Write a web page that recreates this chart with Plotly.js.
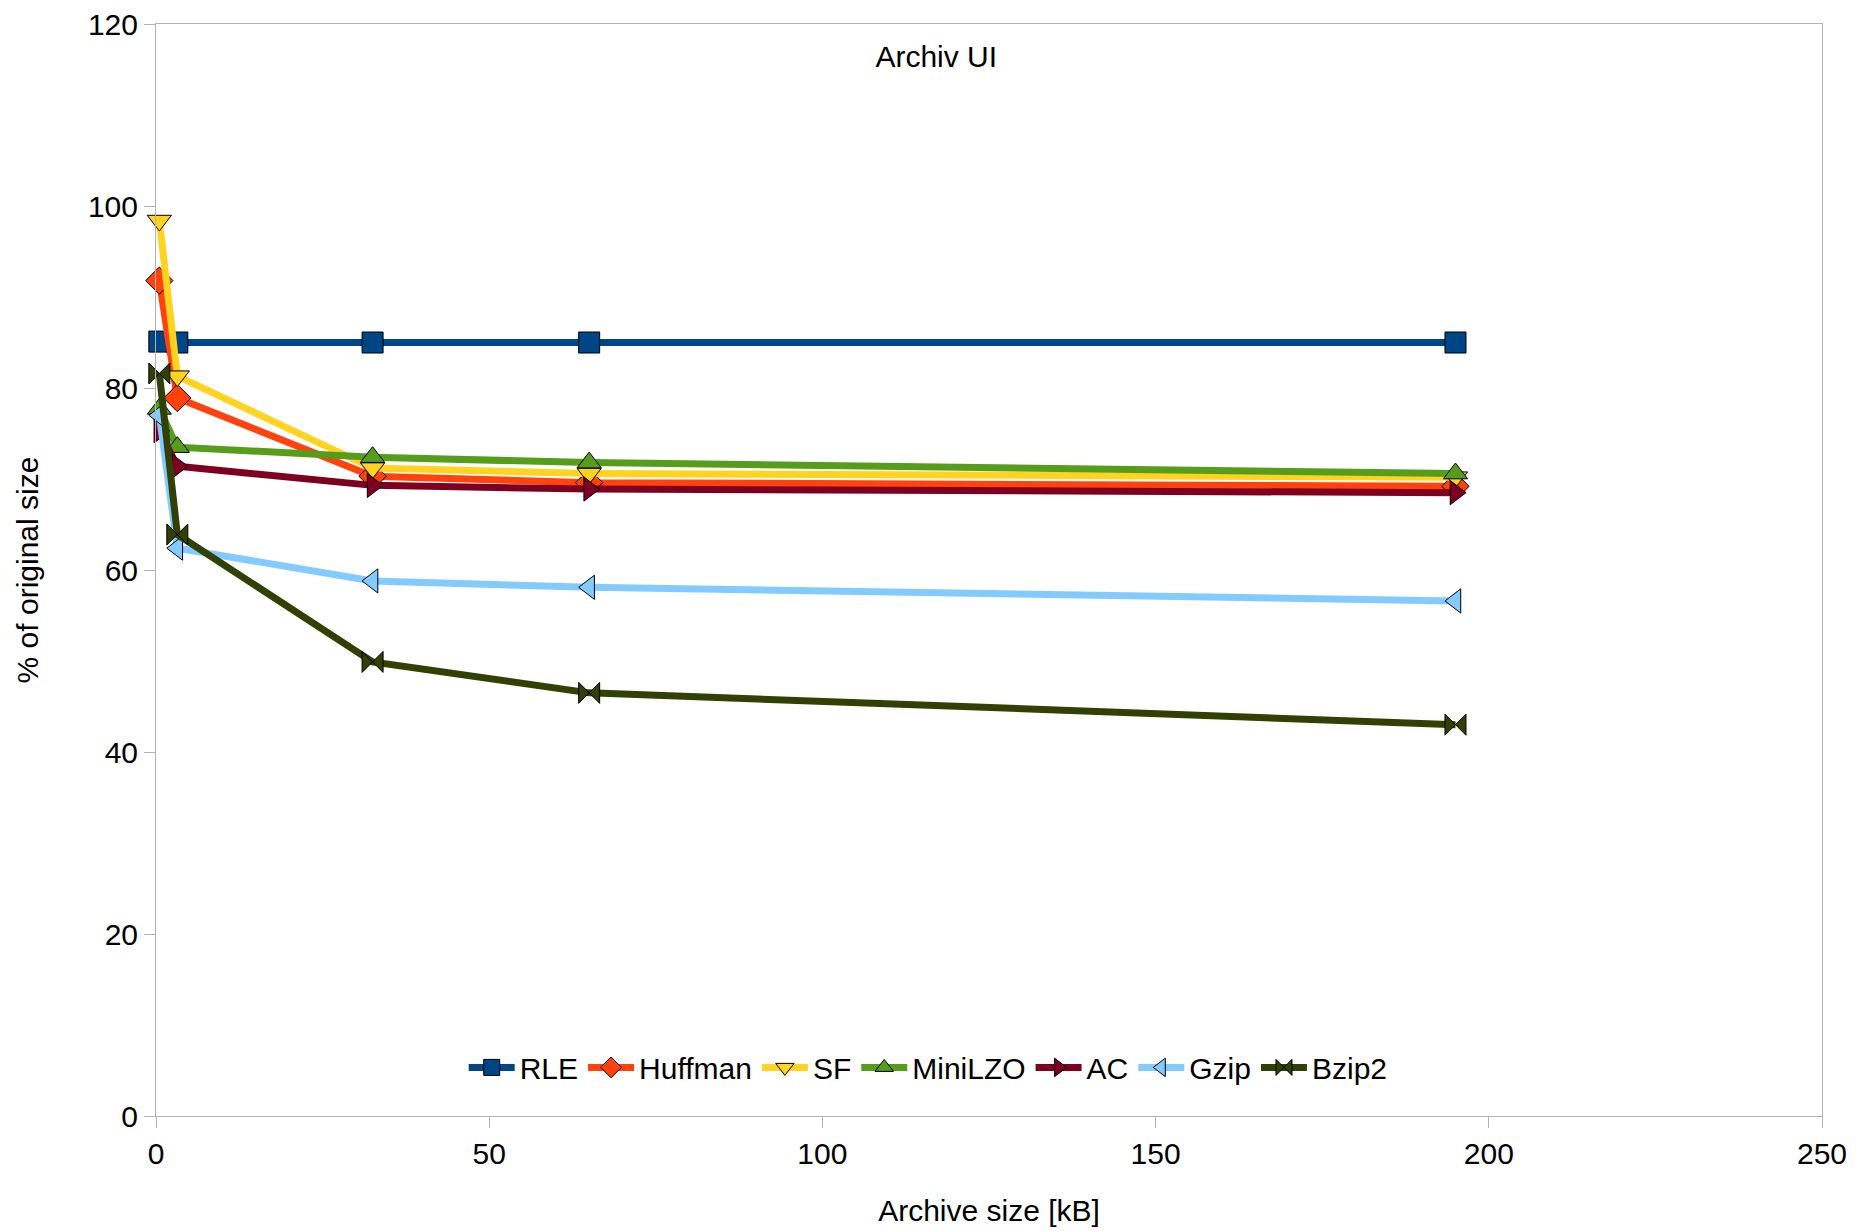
<!DOCTYPE html>
<html>
<head>
<meta charset="utf-8">
<script src="https://cdn.plot.ly/plotly-3.0.1.min.js"></script>
<style>html,body{margin:0;padding:0;background:#fff}#chart{width:1865px;height:1231px}</style>
</head>
<body>
<div id="chart"></div>
<script>
// Archive sizes [kB]
const archiveSize = [0.5, 3.2, 32.5, 65, 195];
// % of original size per algorithm
const RLE     = [85.1, 85.0, 85.0, 85.0, 85.0];
const Huffman = [91.8, 78.9, 70.3, 69.6, 69.2];
const SF      = [98.4, 81.3, 71.2, 70.6, 70.2];
const MiniLZO = [77.7, 73.5, 72.4, 71.8, 70.6];
const AC      = [75.3, 71.4, 69.3, 68.9, 68.5];
const Gzip    = [77.0, 62.4, 58.8, 58.1, 56.6];
const Bzip2   = [81.6, 63.9, 49.9, 46.5, 43.0];

const seriesNames = ["RLE", "Huffman", "SF", "MiniLZO", "AC", "Gzip", "Bzip2"];
const seriesValues = [RLE, Huffman, SF, MiniLZO, AC, Gzip, Bzip2];
const colors = ["#004586", "#ff420e", "#ffd320", "#579d1c", "#7e0021", "#83caff", "#314004"];
const symbols = ["square", "diamond", "triangle-down", "triangle-up", "triangle-right", "triangle-left", "bowtie"];

const FONT = "Liberation Sans, Arial, sans-serif";

const traces = seriesNames.map((name, i) => ({
  type: "scatter",
  mode: "lines+markers",
  name: name,
  x: archiveSize,
  y: seriesValues[i],
  cliponaxis: false,
  line: {color: colors[i], width: 7},
  marker: {symbol: symbols[i], color: colors[i], size: 21, line: {color: "#000", width: 1}}
}));

const layout = {
  width: 1865,
  height: 1231,
  paper_bgcolor: "#fff",
  plot_bgcolor: "#fff",
  margin: {l: 156, r: 43, t: 24, b: 115, autoexpand: false},
  font: {family: FONT, size: 30, color: "#000"},
  title: {text: "Archiv UI", font: {family: FONT, size: 30, color: "#000"}, x: 0.502, xanchor: "center", y: 0.9537, yanchor: "middle"},
  showlegend: true,
  legend: {
    orientation: "h",
    x: 0.4635, xanchor: "center",
    y: 0.0445, yanchor: "middle",
    itemwidth: 46,
    font: {family: FONT, size: 30, color: "#000"},
    bgcolor: "rgba(0,0,0,0)"
  },
  xaxis: {
    range: [0, 250],
    tickvals: [0, 50, 100, 150, 200, 250],
    showgrid: false,
    zeroline: false,
    showline: true, mirror: true, linecolor: "#b3b3b3", linewidth: 1,
    ticks: "outside", ticklen: 11, tickcolor: "#b3b3b3",
    tickfont: {family: FONT, size: 30, color: "#000"},
    title: {text: "Archive size [kB]", font: {family: FONT, size: 30, color: "#000"}, standoff: 30}
  },
  yaxis: {
    range: [0, 120],
    tickvals: [0, 20, 40, 60, 80, 100, 120],
    showgrid: false,
    zeroline: false,
    showline: true, mirror: true, linecolor: "#b3b3b3", linewidth: 1,
    ticks: "outside", ticklen: 11, tickcolor: "#b3b3b3",
    tickfont: {family: FONT, size: 30, color: "#000"},
    title: {text: "% of original size", font: {family: FONT, size: 30, color: "#000"}, standoff: 40}
  }
};

Plotly.newPlot("chart", traces, layout, {displayModeBar: false, staticPlot: true});
</script>
</body>
</html>
